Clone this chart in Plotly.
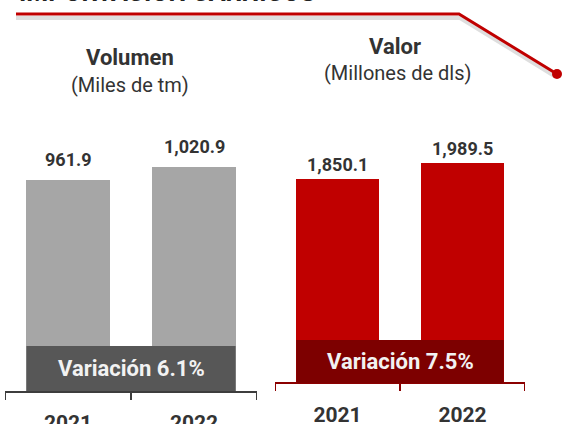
import plotly.graph_objects as go

W, H = 563, 424

# ---------------- data ----------------
years = ["2021", "2022"]
volumen = [961.9, 1020.9]          # miles de tm
valor = [1850.1, 1989.5]           # millones de dls
var_volumen = "Variación 6.1%"
var_valor = "Variación 7.5%"
title_text = "IMPORTACIÓN CÁRNICOS"
vol_title = "Volumen"
vol_sub = "(Miles de tm)"
val_title = "Valor"
val_sub = "(Millones de dls)"


def px(x):
    return x / W


def py(y):
    return 1 - y / H


GREY_BAR = "#a6a6a6"
RED_BAR = "#c00000"
GREY_BAND = "#575757"
RED_BAND = "#7d0000"
TXT = "#333333"
FONT = "Roboto"

fig = go.Figure()
fig.add_trace(go.Bar(x=years, y=volumen, xaxis="x", yaxis="y",
                     marker=dict(color=GREY_BAR, line=dict(width=0)),
                     width=0.66, hoverinfo="skip"))
fig.add_trace(go.Bar(x=years, y=valor, xaxis="x2", yaxis="y2",
                     marker=dict(color=RED_BAR, line=dict(width=0)),
                     width=0.66, hoverinfo="skip"))

axis_common = dict(type="category", range=[-0.5, 1.5], showgrid=False,
                   zeroline=False, showline=False, ticks="", automargin=False,
                   tickfont=dict(family=FONT, size=21, color=TXT, weight="bold"),
                   fixedrange=True)

annotations = []
shapes = []

# value labels
for xr, yr, vals, ys in (("x", "y", volumen, 8), ("x2", "y2", valor, 2)):
    for i, v in enumerate(vals):
        annotations.append(dict(x=i, y=v, xref=xr, yref=yr, text=f"{v:,.1f}",
                                showarrow=False, xanchor="center", yanchor="bottom",
                                yshift=ys,
                                font=dict(family=FONT, size=18, color=TXT, weight="bold")))

# variation bands
for xr, y0, y1, col, txt, ty in (("x", 346, 391, GREY_BAND, var_volumen, 368),
                                 ("x2", 340, 383, RED_BAND, var_valor, 361)):
    shapes.append(dict(type="rect", xref=xr, yref="paper", x0=-0.33, x1=1.33,
                       y0=py(y1), y1=py(y0), fillcolor=col, line=dict(width=0),
                       layer="above"))
    annotations.append(dict(x=0.5, y=py(ty), xref=xr, yref="paper", text=txt,
                            showarrow=False, xanchor="center", yanchor="middle",
                            font=dict(family=FONT, size=22, color="#f2f2f2", weight="bold")))

# brackets
for xr, yl, col in (("x", 392, "#3d3d3d"), ("x2", 383, "#8b0000")):
    for xv in (-0.5, 1.5):
        shapes.append(dict(type="line", xref=xr, yref="paper", x0=xv, x1=xv,
                           y0=py(yl), y1=py(yl + 8), line=dict(color=col, width=2)))
    shapes.append(dict(type="line", xref=xr, yref="paper", x0=-0.5, x1=1.5,
                       y0=py(yl), y1=py(yl), line=dict(color=col, width=2), layer="below"))
    shapes.append(dict(type="line", xref=xr, yref="paper", x0=0.5, x1=0.5,
                       y0=py(yl), y1=py(yl + 8), line=dict(color=col, width=2)))

# red header line with shadow and dot
shapes.append(dict(type="path", xref="paper", yref="paper",
                   path=f"M {px(16)},{py(18)} L {px(460)},{py(18)} L {px(556)},{py(77)}",
                   line=dict(color="rgba(0,0,0,0.13)", width=4)))
shapes.append(dict(type="path", xref="paper", yref="paper",
                   path=f"M {px(16)},{py(14)} L {px(459)},{py(14)} L {px(557)},{py(74)}",
                   line=dict(color="#c00000", width=3)))
shapes.append(dict(type="circle", xref="paper", yref="paper",
                   x0=px(552), x1=px(562), y0=py(79), y1=py(69),
                   fillcolor="#c00000", line=dict(width=0)))

# titles
annotations += [
    dict(x=px(17), y=py(9), xref="paper", yref="paper", text=title_text,
         showarrow=False, xanchor="left", yanchor="bottom",
         font=dict(family=FONT, size=25, color="#222222", weight="bold")),
    dict(x=px(130), y=py(57), xref="paper", yref="paper", text=vol_title,
         showarrow=False, xanchor="center", yanchor="middle",
         font=dict(family=FONT, size=22, color=TXT, weight="bold")),
    dict(x=px(130), y=py(85), xref="paper", yref="paper", text=vol_sub,
         showarrow=False, xanchor="center", yanchor="middle",
         font=dict(family=FONT, size=20, color=TXT)),
    dict(x=px(395), y=py(46), xref="paper", yref="paper", text=val_title,
         showarrow=False, xanchor="center", yanchor="middle",
         font=dict(family=FONT, size=22, color=TXT, weight="bold")),
    dict(x=px(398), y=py(73), xref="paper", yref="paper", text=val_sub,
         showarrow=False, xanchor="center", yanchor="middle",
         font=dict(family=FONT, size=20, color=TXT)),
]

fig.update_layout(
    width=W, height=H,
    margin=dict(l=0, r=0, t=0, b=0, autoexpand=False),
    paper_bgcolor="white", plot_bgcolor="white",
    showlegend=False, bargap=0,
    xaxis=dict(domain=[px(5), px(257)], anchor="y", ticklabelstandoff=17, **axis_common),
    xaxis2=dict(domain=[px(275), px(525)], anchor="y2", ticklabelstandoff=17, **axis_common),
    yaxis=dict(domain=[py(391), py(100)], range=[0, 291 * 4.557], visible=False,
               fixedrange=True, anchor="x"),
    yaxis2=dict(domain=[py(383), py(100)], range=[0, 283 * 9.05], visible=False,
                fixedrange=True, anchor="x2"),
    shapes=shapes,
    annotations=annotations,
)

fig.write_html("out.html", config={"displayModeBar": False},
               post_script="document.body.style.margin='0';document.body.style.padding='0';")
